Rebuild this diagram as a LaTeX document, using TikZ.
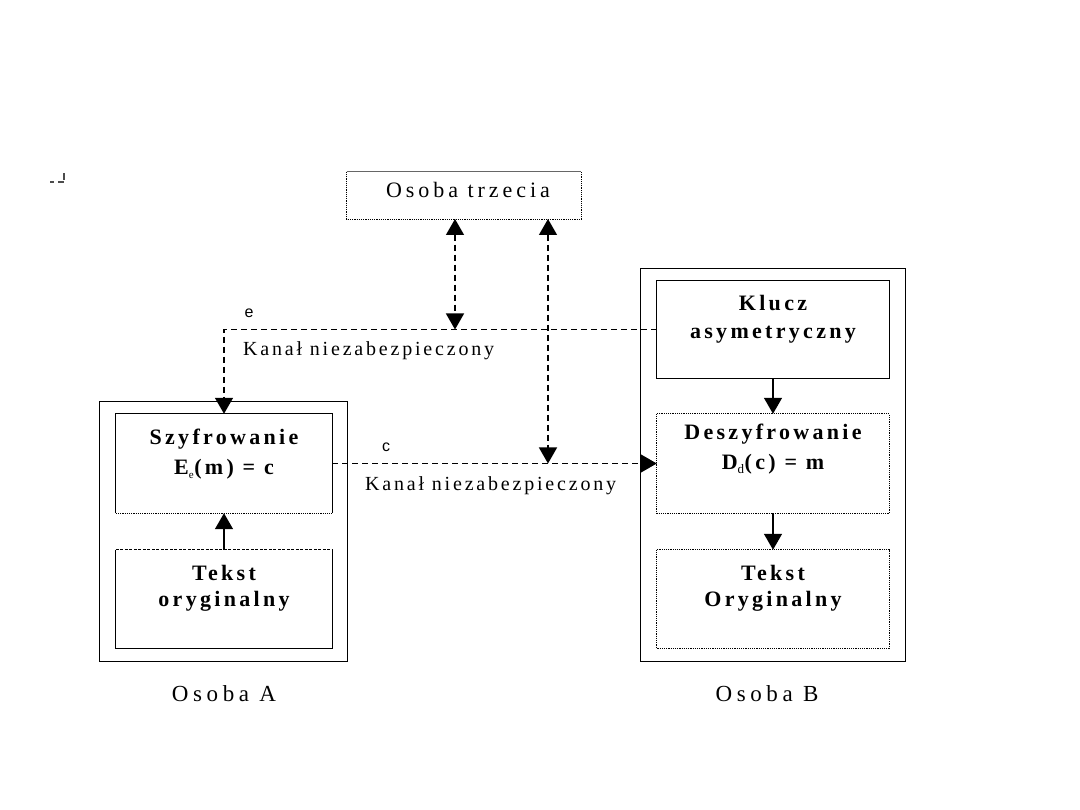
\documentclass[tikz,border=0pt]{standalone}
\usepackage{fontspec}
\setmainfont{Liberation Serif}
\newfontfamily\boxfont[LetterSpace=15]{Liberation Serif}
\newfontfamily\titlefont[LetterSpace=18]{Liberation Serif}
\newfontfamily\namefont[LetterSpace=20]{Liberation Serif}
\newfontfamily\chanfont[LetterSpace=14]{Liberation Serif}
\newfontfamily\labfont{Liberation Sans}
\usetikzlibrary{arrows.meta}
\tikzset{
  frame/.style={draw=none, inner sep=0pt, minimum width=#1},
  solidline/.style={line width=1.3pt},
  dotline/.style={line width=1.1pt, dash pattern=on 1.2pt off 1pt},
  chan/.style={line width=1.3pt, dash pattern=on 6pt off 4pt},
  tip/.style={-{Triangle[width=18pt,length=16pt]}},
  bothtip/.style={{Triangle[width=18pt,length=16pt]}-{Triangle[width=18pt,length=16pt]}},
  btext/.style={anchor=base, inner sep=0pt, font=\boxfont\bfseries\fontsize{22}{26}\selectfont},
  ttext/.style={anchor=base, inner sep=0pt, font=\titlefont\fontsize{22}{26}\selectfont},
  ptext/.style={anchor=base, inner sep=0pt, font=\namefont\fontsize{23}{26}\selectfont},
  ctext/.style={anchor=base west, inner sep=0pt, font=\chanfont\fontsize{20}{22}\selectfont},
  ltext/.style={anchor=base, inner sep=0pt, font=\labfont\fontsize{16}{18}\selectfont},
}
\begin{document}
\begin{tikzpicture}[x=1pt,y=-1pt]
\useasboundingbox (0,0) rectangle (1080,810);
\fill[white] (0,0) rectangle (1080,810);
% stray marks
\fill[black!70] (50,181) rectangle (54,183);
\fill[black!70] (58,181) rectangle (64,183);
\fill[black!70] (63,173) rectangle (65,180);

% boxes
\node[frame=234pt, minimum height=47pt] (third) at (464,195.5) {};
\node[frame=247pt, minimum height=259pt] (osA) at (223.5,531.5) {};
\node[frame=216pt, minimum height=99pt] (szyf) at (224,463.5) {};
\node[frame=216pt, minimum height=98pt] (tekA) at (224,599) {};
\node[frame=264pt, minimum height=392pt] (osB) at (773,465) {};
\node[frame=232pt, minimum height=97pt] (klucz) at (773,329.5) {};
\node[frame=232pt, minimum height=99pt] (deszyf) at (773,463.5) {};
\node[frame=232pt, minimum height=98pt] (tekB) at (773,599) {};

% borders
\draw[dotline] (third.north west) rectangle (third.south east);
\draw[solidline, black!60] (third.north west) -- (third.north east);
\draw[solidline] (osA.north west) rectangle (osA.south east);
\draw[solidline] (szyf.south west) -- (szyf.north west) -- (szyf.north east) -- (szyf.south east);
\draw[dotline] (szyf.south west) -- (szyf.south east);
\draw[solidline] (tekA.north west) -- (tekA.south west) -- (tekA.south east) -- (tekA.north east);
\draw[line width=1.1pt, dash pattern=on 3pt off 1.5pt] (tekA.north west) -- (tekA.north east);
\draw[solidline] (osB.north west) rectangle (osB.south east);
\draw[solidline] (klucz.north west) rectangle (klucz.south east);
\draw[dotline] (deszyf.north west) rectangle (deszyf.south east);
\draw[dotline] (tekB.north west) rectangle (tekB.south east);

% texts
\node[ttext] (tThird) at (468,198) {Osoba trzecia};
\node[btext] (tSz1) at (224,445) {Szyfrowanie};
\node[btext] (tSz2) at (224,475) {E\textsubscript{\normalfont\fontsize{11}{12}\selectfont e}(m) = c};
\node[btext] (tTA1) at (224,580) {Tekst};
\node[btext] (tTA2) at (224,606) {oryginalny};
\node[btext] (tK1) at (773,311) {Klucz};
\node[btext] (tK2) at (773,339) {asymetryczny};
\node[btext] (tD1) at (773,440) {Deszyfrowanie};
\node[btext] (tD2) at (773,470) {D\textsubscript{\normalfont\fontsize{13}{14}\selectfont d}(c) = m};
\node[btext] (tTB1) at (773,580) {Tekst};
\node[btext] (tTB2) at (773,606) {Oryginalny};
\node[ptext] (tA) at (224,701) {Osoba A};
\node[ptext] (tB) at (767,701) {Osoba B};
\node[ctext] (ch1) at (243,356) {Kanał niezabezpieczony};
\node[ctext] (ch2) at (365,490) {Kanał niezabezpieczony};
\node[ltext] (le) at (249,318) {e};
\node[ltext] (lc) at (386,452) {c};

% connector points
\coordinate (eT) at (455,219);
\coordinate (eB) at (455,329.5);
\coordinate (cT) at (548,219);
\coordinate (cB) at (548,463.5);

% channels
\draw[chan, tip] (klucz.west) -| (szyf.north);
\draw[chan, tip] (szyf.east) -- (deszyf.west);
\draw[chan, bothtip] (eT) -- (eB);
\draw[chan, bothtip] (cT) -- (cB);

% solid arrows
\draw[solidline, tip] (tekA.north) -- (szyf.south);
\draw[solidline, tip] (klucz.south) -- (deszyf.north);
\draw[solidline, tip] (deszyf.south) -- (tekB.north);
\end{tikzpicture}
\end{document}
